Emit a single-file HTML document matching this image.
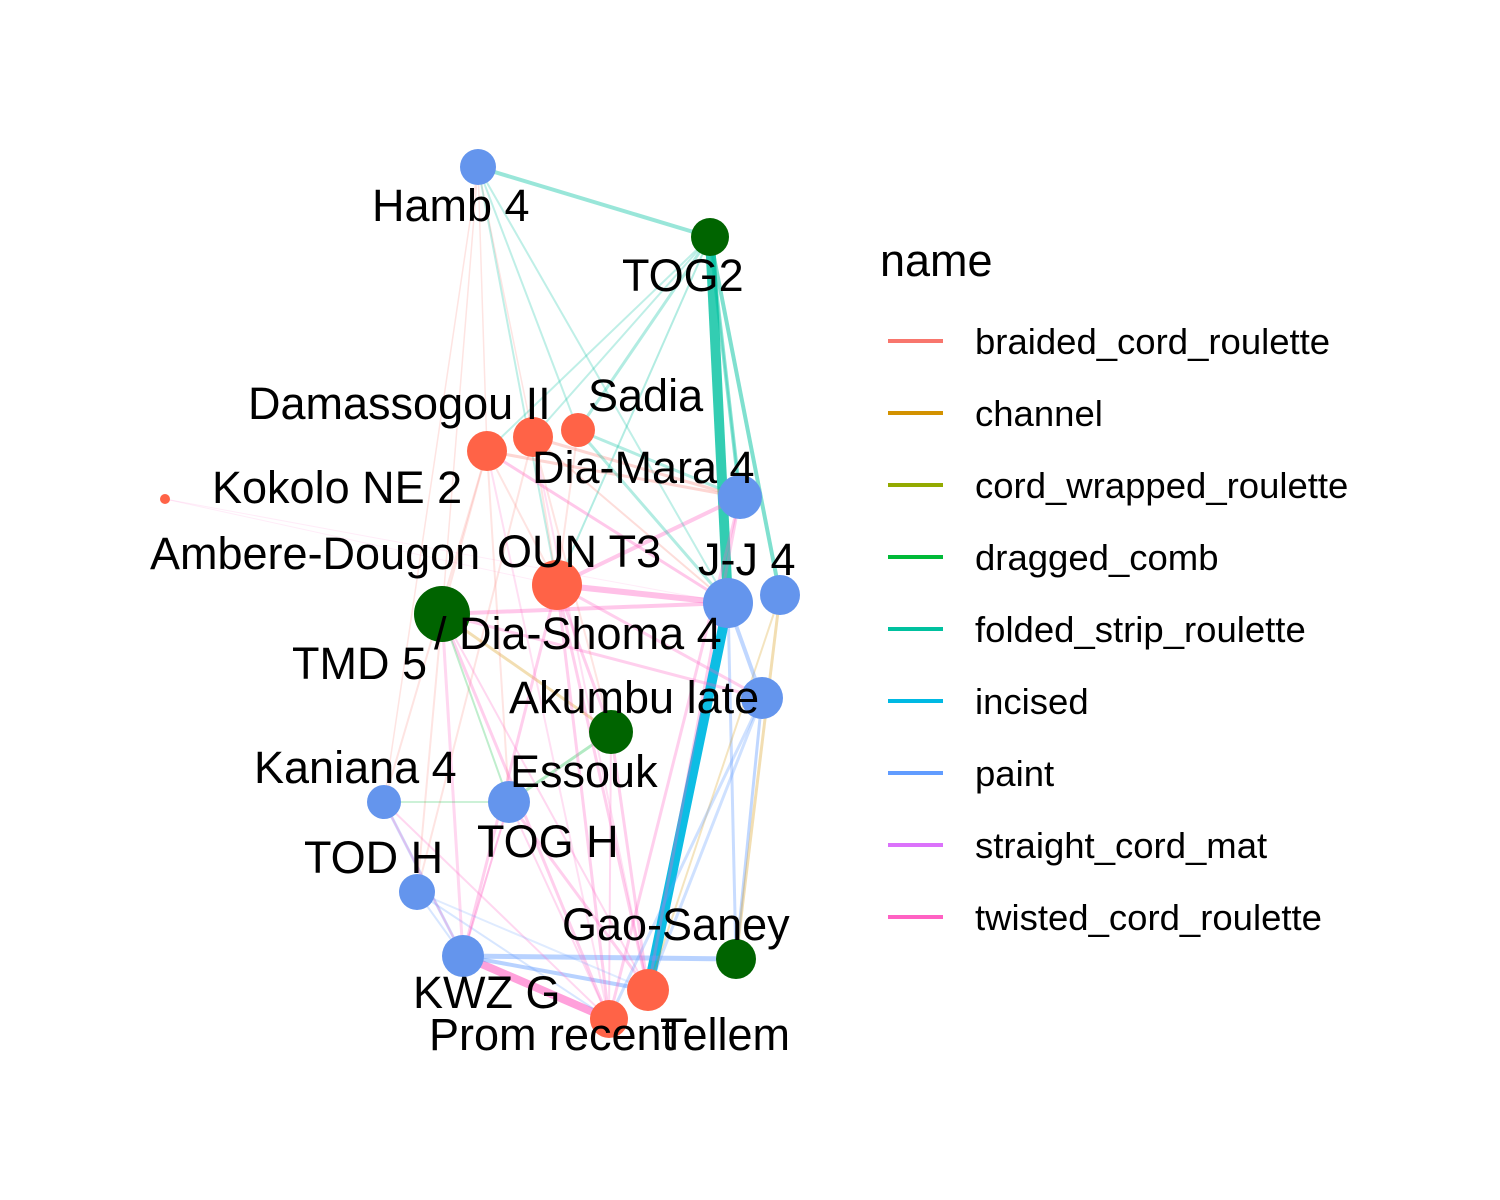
<!DOCTYPE html>
<html><head><meta charset="utf-8">
<style>
html,body{margin:0;padding:0;background:#fff;}
svg{display:block;font-family:"Liberation Sans",Arial,sans-serif;}
</style></head>
<body>
<svg id="chart" width="1500" height="1200" viewBox="0 0 1500 1200">
<g id="edges"></g>
<g id="nodes"></g>
<g id="labels" font-size="45" fill="#000"></g>
<g id="legend"></g>
</svg>
<script>
const nodeNames=["Hamb 4","TOG2","Damassogou II","Damassogou B","Sadia","Kokolo NE 2","Dia-Mara 4","OUN T3","TMD 5","J-J 4","J-J 4b","Dia-Shoma 4","Akumbu late","Essouk","Kaniana 4","TOD H","KWZ G","Gao-Saney","Tellem","Prom recent"];
const nodeX=[478,710,487,533,578,165,740,557,442,728,780,762,611,509,384,417,463,736,648,609];
const nodeY=[167,237,451,437,430,499,497,585,614,603,595,698,732,802,802,892,956,959,990,1019];
const nodeR=[18,19,20,20,17,5,22,25,28,25,20,21,22,21,17,18,21,20,21,19];
const nodeGroup=["paint","comb","red","red","red","red","paint","red","comb","paint","paint","paint","comb","paint","paint","paint","paint","comb","red","red"];
const groupColor={paint:"#6495ED",comb:"#006400",red:"#FF6347"};

const edgeTypes=["braided_cord_roulette","channel","cord_wrapped_roulette","dragged_comb","folded_strip_roulette","incised","paint","straight_cord_mat","twisted_cord_roulette"];
const typeColor=["#F8766D","#D39200","#93AA00","#00BA38","#00C19F","#00B9E3","#619CFF","#DB72FB","#FF61C3"];
const edgeFrom=[0,1,1,1,9,16,16,16,11,9,7,8,7,12,8,10,0,0,0,0,0,0,1,1,1,1,2,3,4,2,3,4,2,2,3,7,7,8,8,13,14,15,12,8,7,6,11,10,5,5,2,3,4,14,15,13,12,7,8,6,9,11,2,3,0,1,13,14,7,8,2,3,8,14,13,15];
const edgeTo=  [1,9,6,10,18,19,17,18,17,17,9,9,6,13,12,17,2,3,7,8,14,9,4,3,7,2,6,6,6,9,9,9,8,14,15,18,19,18,19,18,16,19,18,16,16,18,18,18,9,7,7,7,7,16,16,19,19,12,13,19,11,19,19,18,4,6,16,19,11,11,13,12,15,13,16,18];
const edgeType=[4,4,4,4,5,8,6,6,6,6,8,8,8,3,1,1,0,0,4,0,0,4,4,4,4,4,0,0,4,8,0,4,0,0,0,8,8,8,8,8,6,6,8,8,8,8,6,1,8,8,0,0,0,8,6,8,8,8,3,8,6,6,8,8,4,4,8,8,8,8,0,0,0,3,8,6];
const edgeW=[4,10,4,4,10,8,5,4,3,3,6,4,4,3,3,3,1.5,1.5,2,1.5,1.5,2,3,2,2,2,3,3,3,3,2,3,2,2,2,3,3,2,3,3,3,2,3,3,3,3,3,2,1,1,2,2,2,2,2,2,2,3,2,3,4,3,2,2,2,2,2,2,3,3,2,2,2,2,2,2];
const edgeA=[0.4,0.8,0.45,0.5,0.95,0.6,0.45,0.45,0.4,0.35,0.4,0.35,0.35,0.3,0.3,0.3,0.2,0.2,0.25,0.2,0.2,0.25,0.3,0.25,0.3,0.25,0.3,0.3,0.3,0.35,0.25,0.3,0.2,0.2,0.2,0.3,0.3,0.25,0.3,0.3,0.3,0.25,0.3,0.25,0.3,0.3,0.3,0.25,0.12,0.12,0.2,0.2,0.2,0.25,0.25,0.25,0.25,0.3,0.25,0.3,0.4,0.3,0.2,0.2,0.25,0.3,0.25,0.25,0.3,0.3,0.2,0.2,0.2,0.2,0.2,0.2];

const labelText=["Hamb 4","TOG2","Damassogou II","Sadia","Kokolo NE 2","Dia-Mara 4","Ambere-Dougon","OUN T3","J-J 4","TMD 5","/ Dia-Shoma 4","Akumbu late","Kaniana 4","Essouk","TOD H","TOG H","Gao-Saney","KWZ G","Prom recent","Tellem"];
const labelX=[372,622,248,588,212,532,150,497,698,292,434,509,254,510,304,477,562,413,429,660];
const labelY=[221,291,419,411,503,483,569,567,575,679,649,713,783,787,873,857,940,1008,1050,1050];

const legendLabels=edgeTypes;
const NS="http://www.w3.org/2000/svg";
const eg=document.getElementById('edges');
for(let i=0;i<edgeFrom.length;i++){
  const l=document.createElementNS(NS,'line');
  l.setAttribute('x1',nodeX[edgeFrom[i]]);l.setAttribute('y1',nodeY[edgeFrom[i]]);
  l.setAttribute('x2',nodeX[edgeTo[i]]);l.setAttribute('y2',nodeY[edgeTo[i]]);
  l.setAttribute('stroke',typeColor[edgeType[i]]);
  l.setAttribute('stroke-width',edgeW[i]);
  l.setAttribute('stroke-opacity',edgeA[i]);
  
  
  eg.appendChild(l);
}
const ng=document.getElementById('nodes');
for(let i=0;i<nodeNames.length;i++){
  const c=document.createElementNS(NS,'circle');
  c.setAttribute('cx',nodeX[i]);c.setAttribute('cy',nodeY[i]);c.setAttribute('r',nodeR[i]);
  c.setAttribute('fill',groupColor[nodeGroup[i]]);
  
  
  ng.appendChild(c);
}
const lg=document.getElementById('labels');
for(let i=0;i<labelText.length;i++){
  const t=document.createElementNS(NS,'text');
  t.setAttribute('x',labelX[i]);t.setAttribute('y',labelY[i]);
  t.textContent=labelText[i];
  
  
  lg.appendChild(t);
}
const leg=document.getElementById('legend');
const tt=document.createElementNS(NS,'text');
tt.setAttribute('x',880);tt.setAttribute('y',276);tt.setAttribute('font-size','45');
tt.textContent='name';


leg.appendChild(tt);
for(let i=0;i<legendLabels.length;i++){
  const y=341+i*72;
  const l=document.createElementNS(NS,'line');
  l.setAttribute('x1',888);l.setAttribute('x2',943);l.setAttribute('y1',y);l.setAttribute('y2',y);
  l.setAttribute('stroke',typeColor[i]);l.setAttribute('stroke-width',4);
  
  
  leg.appendChild(l);
  const t=document.createElementNS(NS,'text');
  t.setAttribute('x',975);t.setAttribute('y',y+13);t.setAttribute('font-size','36.5');
  t.textContent=legendLabels[i];
  
  
  leg.appendChild(t);
}
</script>
</body></html>
